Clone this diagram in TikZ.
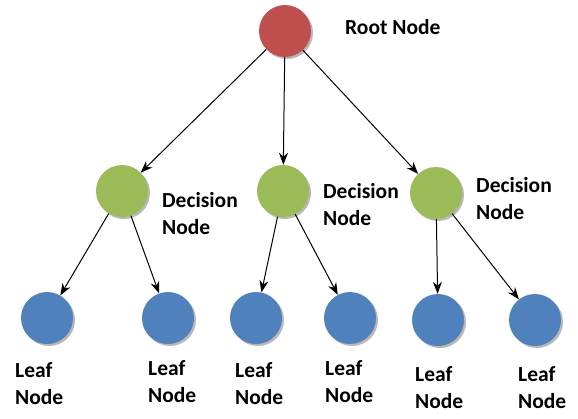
\documentclass[tikz,border=0pt]{standalone}
\usepackage{fontspec}
\setmainfont{Carlito}
\usetikzlibrary{arrows.meta,shadows}
\definecolor{rootred}{HTML}{C0504D}
\definecolor{decgreen}{HTML}{9BBB59}
\definecolor{leafblue}{HTML}{4F81BD}
\tikzset{
  tnode/.style={circle,minimum size=52pt,inner sep=0pt,
    drop shadow={shadow xshift=2pt,shadow yshift=-2pt,fill=black!35,opacity=0.8}},
  rootn/.style={tnode,fill=rootred},
  decn/.style={tnode,fill=decgreen},
  leafn/.style={tnode,fill=leafblue},
  lbl/.style={font=\fontsize{21.5}{27}\selectfont\bfseries,anchor=west,align=left,inner sep=0pt},
  conn/.style={draw=black,line width=1pt,-{Stealth[length=12pt,width=9pt]}}
}
\begin{document}
\begin{tikzpicture}[x=1pt,y=-1pt]
\useasboundingbox (0,0) rectangle (578,418);
\node[rootn] (r) at (285,31) {};
\node[decn] (d1) at (122,191) {};
\node[decn] (d2) at (283,191) {};
\node[decn] (d3) at (436,193) {};
\node[leafn] (l1) at (47,318) {};
\node[leafn] (l2) at (168,318) {};
\node[leafn] (l3) at (256,318) {};
\node[leafn] (l4) at (350,318) {};
\node[leafn] (l5) at (438,320) {};
\node[leafn] (l6) at (535,320) {};
\node[lbl] (tr) at (345,27) {Root Node};
\node[lbl] (t1) at (162,214) {Decision\\Node};
\node[lbl] (t2) at (323,205) {Decision\\Node};
\node[lbl] (t3) at (476,199) {Decision\\Node};
\node[lbl] (u1) at (15,384) {Leaf\\Node};
\node[lbl] (u2) at (148,382) {Leaf\\Node};
\node[lbl] (u3) at (235,384) {Leaf\\Node};
\node[lbl] (u4) at (325,382) {Leaf\\Node};
\node[lbl] (u5) at (415,388) {Leaf\\Node};
\node[lbl] (u6) at (518,388) {Leaf\\Node};
\draw[conn] (r) -- (d1);
\draw[conn] (r) -- (d2);
\draw[conn] (r) -- (d3);
\draw[conn] (d1) -- (l1);
\draw[conn] (d1) -- (l2);
\draw[conn] (d2) -- (l3);
\draw[conn] (d2) -- (l4);
\draw[conn] (d3) -- (l5);
\draw[conn] (d3) -- (l6);
\end{tikzpicture}
\end{document}
